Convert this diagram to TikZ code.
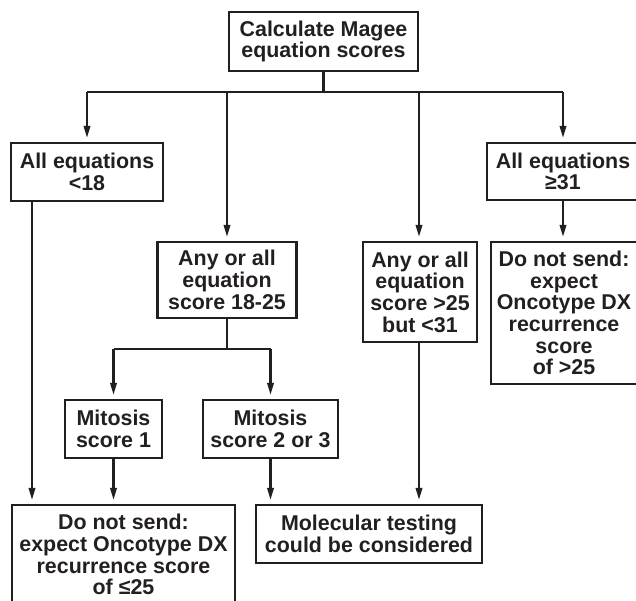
\documentclass[tikz,border=0pt]{standalone}
\usepackage{fontspec}
\setmainfont{Liberation Sans}
\usetikzlibrary{arrows.meta}
\definecolor{ink}{HTML}{231F20}
\begin{document}
\begin{tikzpicture}[x=1pt,y=-1pt,
  box/.style={draw=ink, text=ink, line width=2.3pt, rectangle, align=center, inner sep=0pt,
    font=\fontsize{21.4}{21.7}\selectfont\bfseries},
  link/.style={draw=ink, line width=2.1pt},
  arr/.style={link, -{Triangle[length=12pt,width=6.5pt]}, shorten >=4pt}]
\useasboundingbox (0,0) rectangle (636,600);
\node[box, minimum width=189pt, minimum height=59pt] (top) at (323.5,41.5) {Calculate Magee\\equation scores};
\node[box, minimum width=152pt, minimum height=58pt] (lt18) at (87,172) {All equations\\<18};
\node[box, minimum width=152pt, minimum height=57pt] (ge31) at (563,171.5) {All equations\\≥31};
\node[box, minimum width=139pt, minimum height=76pt] (s1825) at (227,280) {Any or all\\equation\\score 18-25};
\node[box, minimum width=114pt, minimum height=100pt] (s2531) at (420,292) {Any or all\\equation\\score >25\\but <31};
\node[box, minimum width=146pt, minimum height=142pt] (dns25) at (564,313) {Do not send:\\expect\\Oncotype DX\\recurrence\\score\\of >25};
\node[box, minimum width=97pt, minimum height=58pt] (mit1) at (113.5,429) {Mitosis\\score 1};
\node[box, minimum width=135pt, minimum height=58pt] (mit23) at (270.5,429) {Mitosis\\score 2 or 3};
\node[box, minimum width=223pt, minimum height=99pt] (dnsle25) at (123.5,554.5) {Do not send:\\expect Oncotype DX\\recurrence score\\of ≤25};
\node[box, minimum width=226pt, minimum height=58pt] (mol) at (369,534) {Molecular testing\\could be considered};
\coordinate (bar1) at (323.5,92);
\coordinate (bar2) at (227,349);
\coordinate (c1) at (32,0);
% top split
\draw[link] (top.south) -- (bar1);
\draw[link] (lt18.north |- bar1) -- (ge31.north |- bar1);
\draw[arr] (lt18.north |- bar1) -- (lt18.north);
\draw[arr] (ge31.north |- bar1) -- (ge31.north);
\draw[arr] (s1825.north |- bar1) -- (s1825.north);
\draw[arr] ([xshift=-1pt]s2531.north |- bar1) -- ([xshift=-1pt]s2531.north);
% right column
\draw[arr] (ge31.south) -- (ge31.south |- dns25.north);
% 18-25 split
\draw[link] (s1825.south) -- (s1825.south |- bar2);
\draw[link] (mit1.north |- bar2) -- (mit23.north |- bar2);
\draw[arr] (mit1.north |- bar2) -- (mit1.north);
\draw[arr] (mit23.north |- bar2) -- (mit23.north);
% to bottom row
\draw[arr] (lt18.south -| c1) -- (dnsle25.north -| c1);
\draw[arr] (mit1.south) -- (mit1.south |- dnsle25.north);
\draw[arr] (mit23.south) -- (mit23.south |- mol.north);
\draw[arr] ([xshift=-1pt]s2531.south) -- ([xshift=-1pt]s2531.south |- mol.north);
\end{tikzpicture}
\end{document}
